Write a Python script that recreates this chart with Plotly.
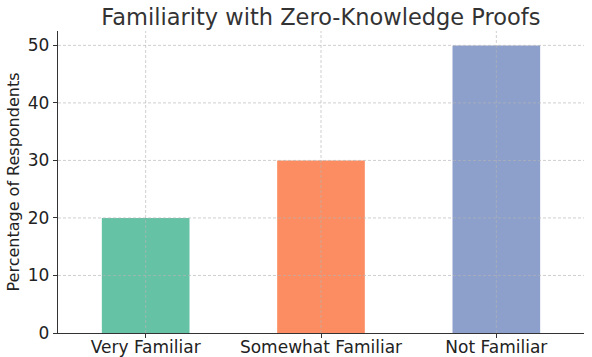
import plotly.graph_objects as go

categories = ["Very Familiar", "Somewhat Familiar", "Not Familiar"]
values = [20, 30, 50]
colors = ["#66c2a5", "#fc8d62", "#8da0cb"]
y_ticks = [0, 10, 20, 30, 40, 50]

fig = go.Figure()
fig.add_trace(go.Bar(x=categories, y=values, marker=dict(color=colors, line=dict(width=0)),
                     width=0.5))

grid_style = dict(color="rgba(180,180,180,0.8)", width=0.8, dash="3px,2px")
shapes = []
for c in categories:
    shapes.append(dict(type="line", xref="x", yref="paper", x0=c, x1=c, y0=0, y1=1,
                       line=grid_style, layer="above"))
for t in y_ticks[1:]:
    shapes.append(dict(type="line", xref="paper", yref="y", x0=0, x1=1, y0=t, y1=t,
                       line=grid_style, layer="above"))

fig.update_layout(
    width=592, height=357,
    margin=dict(l=58, r=8, t=31, b=24),
    paper_bgcolor="white", plot_bgcolor="white",
    font=dict(family="DejaVu Sans", size=16, color="#222"),
    title=dict(text="Familiarity with Zero-Knowledge Proofs", x=0.542, xanchor="center",
               y=0.953, yanchor="middle", font=dict(size=22.5, color="#333")),
    showlegend=False,
    shapes=shapes,
    bargap=0.5,
)
fig.update_xaxes(range=[-0.5, 2.5], showgrid=False, showline=True, linecolor="#333", linewidth=1.3,
                 ticks="outside", ticklen=4, tickcolor="#333", tickfont=dict(size=17),
                 automargin=False, ticklabelstandoff=-6)
fig.update_yaxes(range=[0, 52.5], tickvals=y_ticks, showgrid=False, showline=True, linecolor="#333",
                 linewidth=1.3, ticks="outside", ticklen=4, tickcolor="#333", zeroline=False,
                 tickfont=dict(size=17), automargin=False,
                 title=dict(text="Percentage of Respondents", font=dict(size=16), standoff=4))

fig.write_html("out.html", config={"displayModeBar": False},
               post_script="document.body.style.margin='0';document.body.style.overflow='hidden';")
